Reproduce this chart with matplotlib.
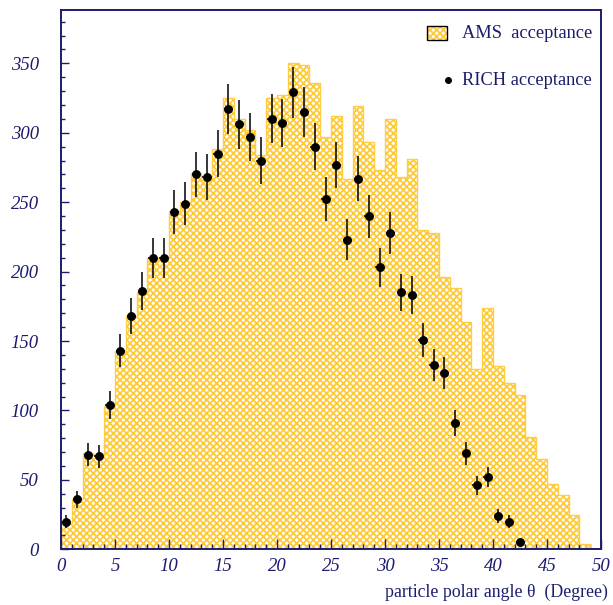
import matplotlib
matplotlib.use("Agg")
import matplotlib.pyplot as plt
from matplotlib.patches import Rectangle
from matplotlib.ticker import MultipleLocator
import numpy as np

NAVY = "#1c1c6e"
HATCH = "#ffc933"
OUTLINE = "#ffcc44"

# AMS acceptance histogram: 1-degree bins from 0 to 49
ams_edges = np.arange(0, 50)
ams_counts = [19, 36, 69, 68, 103, 143, 168, 185, 210, 210,
              244, 250, 271, 266, 288, 325, 310, 302, 284, 325,
              327, 350, 349, 336, 297, 312, 267, 319, 293, 273,
              310, 268, 281, 230, 228, 196, 188, 164, 130, 174,
              132, 120, 111, 81, 65, 47, 39, 25, 4]

# RICH acceptance, counted in the same bins (first 43 bins populated)
rich_theta = np.arange(0.5, 43.0, 1.0)
rich_counts = np.array([20, 36, 68, 67, 104, 143, 168, 186, 210, 210,
                        243, 249, 270, 268, 285, 317, 306, 297, 280, 310,
                        307, 329, 315, 290, 252, 277, 223, 267, 240, 203,
                        228, 185, 183, 151, 133, 127, 91, 69, 46, 52,
                        24, 20, 5])
rich_err = np.sqrt(rich_counts)

plt.rcParams["hatch.linewidth"] = 1.25
serif = ["Liberation Serif", "DejaVu Serif"]

fig = plt.figure(figsize=(6.13, 6.05), dpi=100)
ax = fig.add_axes([61 / 613, 1 - 549.3 / 605, 540 / 613, 539.3 / 605])

ax.stairs(ams_counts, ams_edges, fill=True, facecolor="white",
          edgecolor=HATCH, hatch="xxxxx", linewidth=0, zorder=1)
ax.stairs(ams_counts, ams_edges, color=OUTLINE, linewidth=1.0, zorder=2)

ax.errorbar(rich_theta, rich_counts, yerr=rich_err, xerr=0.4, fmt="o",
            color="black", ms=5.4, elinewidth=1.1, capsize=0, zorder=3)

ax.set_xlim(0, 50)
ax.set_ylim(0, 388.4)
ax.xaxis.set_major_locator(MultipleLocator(5))
ax.xaxis.set_minor_locator(MultipleLocator(1))
ax.yaxis.set_major_locator(MultipleLocator(50))
ax.yaxis.set_minor_locator(MultipleLocator(10))

for s in ax.spines.values():
    s.set_color(NAVY)
    s.set_linewidth(1.4)

ax.tick_params(which="both", direction="in", top=False, right=False,
               color=NAVY, labelcolor=NAVY, width=1.0)
ax.tick_params(axis="x", which="major", length=7.2, pad=6)
ax.tick_params(axis="x", which="minor", length=3.6)
ax.tick_params(axis="y", which="major", length=5.8, pad=16)
ax.tick_params(axis="y", which="minor", length=2.9)
for lab in ax.get_xticklabels() + ax.get_yticklabels():
    lab.set_family(serif)
    lab.set_style("italic")
    lab.set_fontsize(13.5)

fig.text(608 / 613, 1 - 592 / 605, "particle polar angle θ  (Degree)",
         ha="right", va="center", fontsize=12.8, color=NAVY, family=serif)

# legend drawn in axes coordinates
ax.add_patch(Rectangle((0.678, 0.944), 0.037, 0.026, transform=ax.transAxes,
                       facecolor="white", edgecolor=HATCH, hatch="xxxxx",
                       linewidth=0, zorder=4))
ax.add_patch(Rectangle((0.678, 0.944), 0.037, 0.026, transform=ax.transAxes,
                       fill=False, edgecolor="black", linewidth=1.0, zorder=5))
ax.text(0.7426, 0.957, "AMS  acceptance", transform=ax.transAxes,
        ha="left", va="center", fontsize=13.2, color=NAVY, family=serif)
ax.plot([0.716], [0.870], "o", color="black", ms=4, transform=ax.transAxes)
ax.text(0.7426, 0.870, "RICH acceptance", transform=ax.transAxes,
        ha="left", va="center", fontsize=13.2, color=NAVY, family=serif)

fig.savefig("out.png", dpi=100)
